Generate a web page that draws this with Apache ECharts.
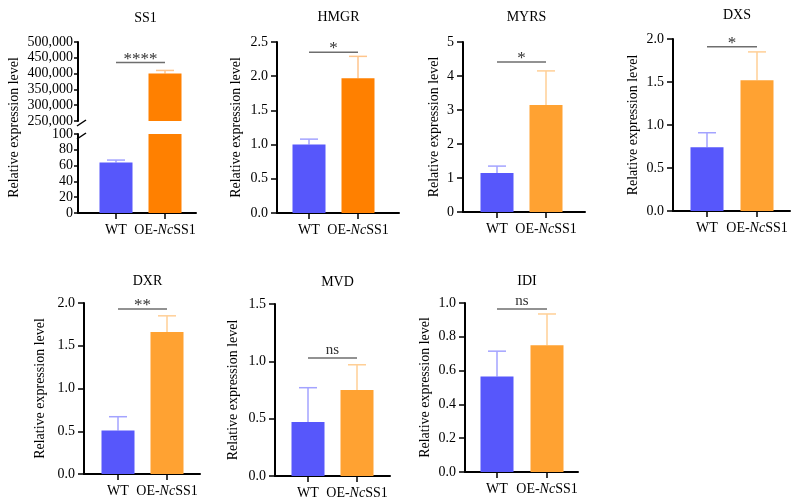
<!DOCTYPE html>
<html>
<head>
<meta charset="utf-8">
<script src="https://cdn.jsdelivr.net/npm/echarts@6/dist/echarts.min.js"></script>
<style>html,body{margin:0;padding:0;background:#fff}#c{width:795px;height:504px}</style>
</head>
<body>
<div id="c"></div>
<script>
// ---- data ----
const genes   = ['SS1', 'HMGR', 'MYRS', 'DXS', 'DXR', 'MVD', 'IDI'];
const groups  = ['WT', 'OE-NcSS1'];
const wtMean  = [64, 1.00, 1.15, 0.74, 0.51, 0.47, 0.565];
const wtErr   = [3, 0.08, 0.20, 0.17, 0.16, 0.30, 0.15];
const oeMean  = [400000, 1.97, 3.15, 1.52, 1.66, 0.75, 0.75];
const oeErr   = [10000, 0.32, 1.00, 0.33, 0.19, 0.22, 0.185];
const sigText = ['****', '*', '*', '*', '**', 'ns', 'ns'];
const sigLevel= [435000, 2.35, 4.41, 1.91, 1.93, 1.03, 0.965];
const yMin    = [0, 0, 0, 0, 0, 0, 0];
const yMax    = [100, 2.5, 5, 2.0, 2.0, 1.5, 1.0];
const yStep   = [20, 0.5, 1, 0.5, 0.5, 0.5, 0.2];
const yDecimals = [0, 1, 0, 1, 1, 1, 1];
const ss1UpperMin = 250000, ss1UpperMax = 500000, ss1UpperStep = 50000;

// ---- styles / layout ----
const FONT = 'Liberation Serif';
const WT_COLOR = '#5757fb', WT_ERR = '#a3a3ff';
const OE_COLOR = ['#ff8000', '#ff8000', '#ffa232', '#ffa232', '#ffa232', '#ffa232', '#ffa232'];
const OE_ERR   = ['#ffc58c', '#ffc58c', '#ffcf96', '#ffcf96', '#ffcf96', '#ffcf96', '#ffcf96'];
const layout = [
  {left: 78,  right: 196, top: 42,  bottom: 213, t0: 116, t1: 165, brkTop: 121, brkBot: 134, titleTop: 6,   nameGap: 0},
  {left: 277, right: 399, top: 42,  bottom: 213, t0: 309, t1: 358, titleTop: 5,   nameGap: 34},
  {left: 463, right: 585, top: 42,  bottom: 212, t0: 497, t1: 546, titleTop: 5,   nameGap: 22},
  {left: 673, right: 790, top: 39,  bottom: 211, t0: 707, t1: 757, titleTop: 3,   nameGap: 33},
  {left: 84,  right: 200, top: 303, bottom: 474, t0: 118, t1: 167, titleTop: 269, nameGap: 37},
  {left: 275, right: 390, top: 304, bottom: 476, t0: 308, t1: 357, titleTop: 270, nameGap: 35},
  {left: 465, right: 578, top: 303, bottom: 472, t0: 497, t1: 547, titleTop: 269, nameGap: 33}
];

const grids = [], xAxes = [], yAxes = [], series = [], titles = [], graphics = [];

function addPanel(i, gTop, gBottom, showX, ymin, ymax, step, fmt, showName, drawSig) {
  const L = layout[i];
  const unit = L.t1 - L.t0;
  const gi = grids.length;
  grids.push({left: L.left, top: gTop, width: L.right - L.left, height: gBottom - gTop, containLabel: false});
  xAxes.push({
    gridIndex: gi, type: 'value',
    min: (L.left - L.t0) / unit, max: (L.right - L.t0) / unit,
    show: true,
    axisLine: {show: showX, onZero: false, lineStyle: {color: '#000', width: 2}},
    axisTick: {show: showX, customValues: [0, 1], length: 6, inside: false, lineStyle: {color: '#000', width: 1.5}},
    axisLabel: {
      show: showX, customValues: [0, 1], margin: 10, color: '#000', fontSize: 14, fontFamily: FONT,
      formatter: v => v === 0 ? groups[0] : 'OE-{i|Nc}SS1',
      rich: {i: {fontStyle: 'italic', fontSize: 14, fontFamily: FONT, color: '#000'}}
    },
    splitLine: {show: false}
  });
  yAxes.push({
    gridIndex: gi, type: 'value', min: ymin, max: ymax, interval: step,
    axisLine: {show: true, onZero: false, lineStyle: {color: '#000', width: 2}},
    axisTick: {show: true, length: i === 0 ? 4 : 6, lineStyle: {color: '#000', width: 1.5}},
    axisLabel: {margin: i === 0 ? 5 : 9, color: '#000', fontSize: 14, fontFamily: FONT, formatter: fmt},
    splitLine: {show: false},
    name: showName ? 'Relative expression level' : '',
    nameLocation: 'middle', nameGap: L.nameGap,
    nameTextStyle: {color: '#000', fontSize: 14, fontFamily: FONT}
  });
  // bars
  const barData = [];
  if (wtMean[i] > ymin) barData.push({value: [0, wtMean[i]], itemStyle: {color: WT_COLOR}});
  if (oeMean[i] > ymin) barData.push({value: [1, oeMean[i]], itemStyle: {color: OE_COLOR[i]}});
  series.push({
    type: 'bar', xAxisIndex: gi, yAxisIndex: gi, barWidth: 33, clip: true,
    data: barData, silent: true, animation: false, z: 3
  });
  // error bars (upper only)
  const errData = [];
  const errColors = [];
  if (wtMean[i] + wtErr[i] <= ymax && wtMean[i] + wtErr[i] >= ymin) { errData.push([0, wtMean[i], wtErr[i]]); errColors.push(WT_ERR); }
  if (oeMean[i] + oeErr[i] <= ymax && oeMean[i] + oeErr[i] >= ymin) { errData.push([1, oeMean[i], oeErr[i]]); errColors.push(OE_ERR[i]); }
  series.push({
    type: 'custom', xAxisIndex: gi, yAxisIndex: gi, data: errData, silent: true, animation: false, z: 2,
    renderItem: (params, api) => {
      const x = api.value(0), m = api.value(1), e = api.value(2);
      const p0 = api.coord([x, Math.max(m, ymin)]), p1 = api.coord([x, m + e]);
      const c = errColors[params.dataIndex];
      return {type: 'group', children: [
        {type: 'line', shape: {x1: p0[0], y1: p0[1], x2: p1[0], y2: p1[1]}, style: {stroke: c, lineWidth: 1.5}},
        {type: 'line', shape: {x1: p1[0] - 9, y1: p1[1], x2: p1[0] + 9, y2: p1[1]}, style: {stroke: c, lineWidth: 1.5}}
      ]};
    }
  });
  if (drawSig) {
    series.push({
      type: 'custom', xAxisIndex: gi, yAxisIndex: gi, data: [[0, 1, sigLevel[i]]], silent: true, animation: false, z: 4,
      renderItem: (params, api) => {
        const a = api.coord([api.value(0), api.value(2)]);
        const b = api.coord([api.value(1), api.value(2)]);
        const isStar = sigText[i].indexOf('*') >= 0;
        return {type: 'group', children: [
          {type: 'line', shape: {x1: a[0], y1: a[1], x2: b[0], y2: b[1]}, style: {stroke: '#6e6e6e', lineWidth: 1.5}},
          {type: 'text', style: {text: sigText[i], x: (a[0] + b[0]) / 2, y: a[1] + (isStar ? 5 : 0),
            align: 'center', verticalAlign: 'bottom', fontSize: isStar ? 17 : 15, fontFamily: FONT, fill: '#333'}}
        ]};
      }
    });
  }
  return gi;
}

genes.forEach((g, i) => {
  const L = layout[i];
  titles.push({
    text: g, left: (L.t0 + L.t1) / 2, top: L.titleTop, textAlign: 'center',
    textStyle: {fontSize: 14, fontWeight: 'normal', color: '#000', fontFamily: FONT}
  });
  const fmt = v => v.toFixed(yDecimals[i]);
  if (i === 0) {
    addPanel(0, L.top, L.brkTop, false, ss1UpperMin, ss1UpperMax, ss1UpperStep,
      v => v.toLocaleString('en-US'), false, true);
    addPanel(0, L.brkBot, L.bottom, true, yMin[0], yMax[0], yStep[0], fmt, false, false);
    graphics.push({type: 'text', x: 14, y: (L.top + L.bottom) / 2, rotation: Math.PI / 2,
      style: {text: 'Relative expression level', align: 'center', verticalAlign: 'middle',
        fontSize: 14, fontFamily: FONT, fill: '#000'}});
    graphics.push({type: 'line', shape: {x1: L.left - 1, y1: L.brkTop + 5, x2: L.left + 8, y2: L.brkTop - 1},
      style: {stroke: '#000', lineWidth: 1.5}});
    graphics.push({type: 'line', shape: {x1: L.left - 1, y1: L.brkBot + 5, x2: L.left + 8, y2: L.brkBot - 1},
      style: {stroke: '#000', lineWidth: 1.5}});
  } else {
    addPanel(i, L.top, L.bottom, true, yMin[i], yMax[i], yStep[i], fmt, true, true);
  }
});

const chart = echarts.init(document.getElementById('c'), null, {renderer: 'canvas'});
chart.setOption({
  backgroundColor: '#fff',
  animation: false,
  title: titles,
  grid: grids,
  xAxis: xAxes,
  yAxis: yAxes,
  series: series,
  graphic: graphics
});
</script>
</body>
</html>
